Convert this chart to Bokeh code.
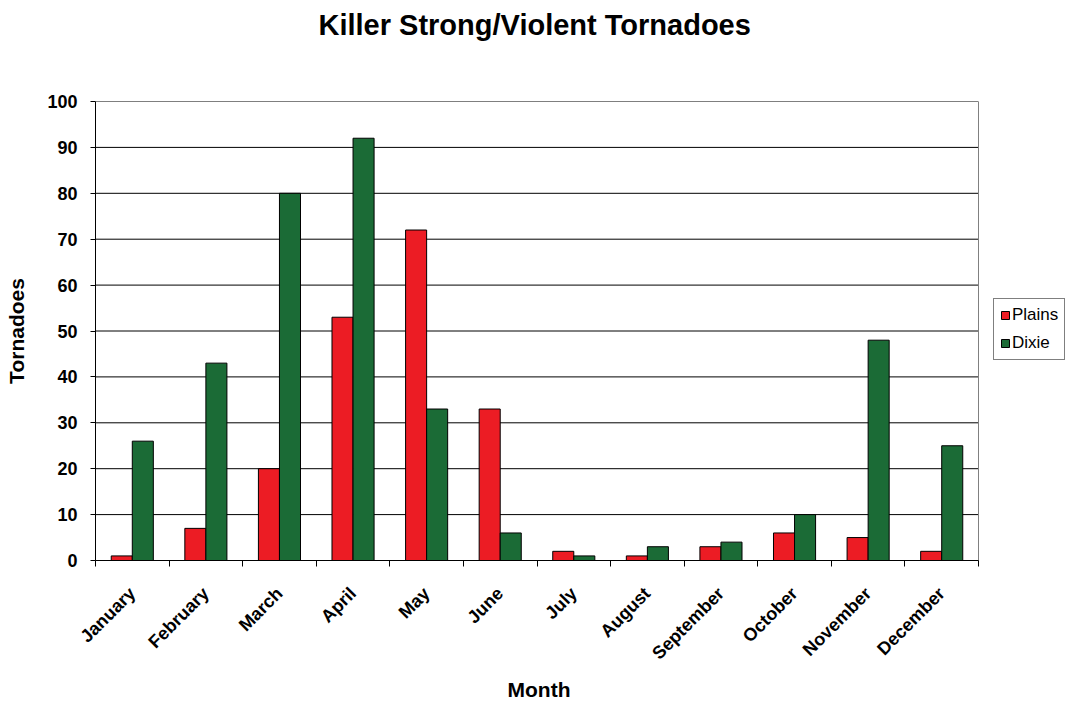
import math
from bokeh.plotting import figure
from bokeh.models import (ColumnDataSource, Range1d, FixedTicker, Legend, LegendItem, Title)
from bokeh.embed import file_html
from bokeh.resources import INLINE

months = ["January", "February", "March", "April", "May", "June", "July",
          "August", "September", "October", "November", "December"]
plains = [1, 7, 20, 53, 72, 33, 2, 1, 3, 6, 5, 2]
dixie = [26, 43, 80, 92, 33, 6, 1, 3, 4, 10, 48, 25]
y_ticks = [0, 10, 20, 30, 40, 50, 60, 70, 80, 90, 100]

FONT = "Liberation Sans"
RED = "#EC1C24"
GREEN = "#1B6B36"
bar_w = 0.286

# layout (pixels)
W, H = 1068, 705
LEFT, TOP, BOTTOM = 95, 101, 145
PLOT_RIGHT = 978          # right edge of the plot area (legend lives to its right)
n = len(months)
frame_w = W - LEFT
x_end = n * frame_w / (PLOT_RIGHT - LEFT)

centers = [i + 0.5 for i in range(n)]
src = ColumnDataSource(dict(
    xp=[c - bar_w / 2 for c in centers],
    xd=[c + bar_w / 2 for c in centers],
    plains=plains,
    dixie=dixie,
))

p = figure(width=W, height=H, output_backend="svg", toolbar_location=None,
           x_range=Range1d(0, x_end), y_range=Range1d(0, 100),
           min_border_left=LEFT, min_border_right=0, min_border_top=TOP,
           min_border_bottom=BOTTOM, title=None)

p.background_fill_color = "white"
p.border_fill_color = "white"
p.outline_line_color = None
p.xgrid.visible = False
p.ygrid.visible = False

# gridlines and plot-area right border, limited to the category span
p.segment(x0=[0] * len(y_ticks), x1=[n] * len(y_ticks), y0=y_ticks, y1=y_ticks,
          line_color="black", line_width=1)
p.segment(x0=[n], x1=[n], y0=[0], y1=[100], line_color="#808080", line_width=1)

r1 = p.vbar(x="xp", top="plains", width=bar_w, source=src, fill_color=RED,
            line_color="black", line_width=1)
r2 = p.vbar(x="xd", top="dixie", width=bar_w, source=src, fill_color=GREEN,
            line_color="black", line_width=1)

# spacer (closest to frame) then the real title above it
spacer = Title(text=" ", text_font_size="10px", standoff=48, text_color="white")
p.add_layout(spacer, "above")
t = Title(text="Killer Strong/Violent Tornadoes", align="left", offset=318 - LEFT,
          text_font=FONT, text_font_size="29px", text_font_style="bold",
          text_color="black", standoff=0)
p.add_layout(t, "above")

# x axis
xa = p.xaxis[0]
xa.bounds = (0, n)
xa.ticker = FixedTicker(ticks=centers, minor_ticks=list(range(n + 1)))
xa.major_label_overrides = {c: m for c, m in zip(centers, months)}
xa.major_label_orientation = math.pi / 4
xa.major_tick_out = 0
xa.major_tick_in = 0
xa.minor_tick_out = 6
xa.minor_tick_in = 0
xa.minor_tick_line_color = "black"
xa.axis_line_color = "black"
xa.major_label_text_font = FONT
xa.major_label_text_font_size = "18px"
xa.major_label_text_font_style = "bold"
xa.major_label_text_color = "black"
xa.major_label_standoff = 24
xa.axis_label = None

# x-axis title, aligned under the category span
xt = Title(text="Month", align="left", offset=507 - LEFT, vertical_align="bottom",
           text_font=FONT, text_font_size="21px", text_font_style="bold",
           text_color="black", standoff=4)
p.add_layout(xt, "below")

# y axis
ya = p.yaxis[0]
ya.ticker = FixedTicker(ticks=y_ticks)
ya.major_tick_out = 5
ya.major_tick_in = 0
ya.minor_tick_out = 0
ya.minor_tick_in = 0
ya.axis_line_color = "black"
ya.major_tick_line_color = "black"
ya.major_label_text_font = FONT
ya.major_label_text_font_size = "18px"
ya.major_label_text_font_style = "bold"
ya.major_label_text_color = "black"
ya.major_label_standoff = 13
ya.axis_label = "Tornadoes"
ya.axis_label_text_font = FONT
ya.axis_label_text_font_size = "21px"
ya.axis_label_text_font_style = "bold"
ya.axis_label_text_color = "black"
ya.axis_label_standoff = 16

legend = Legend(items=[LegendItem(label="Plains", renderers=[r1]),
                       LegendItem(label="Dixie", renderers=[r2])],
                location=(993 - LEFT, H - BOTTOM - 360))
legend.label_text_font = FONT
legend.label_text_font_size = "17px"
legend.label_text_color = "black"
legend.glyph_width = 10
legend.glyph_height = 10
legend.label_height = 17
legend.label_standoff = 2
legend.spacing = 8
legend.padding = 6
legend.margin = 0
legend.border_line_color = "black"
legend.border_line_width = 1
legend.background_fill_color = "white"
legend.background_fill_alpha = 1
p.add_layout(legend, "center")

open("out.html", "w").write(file_html(p, INLINE))
